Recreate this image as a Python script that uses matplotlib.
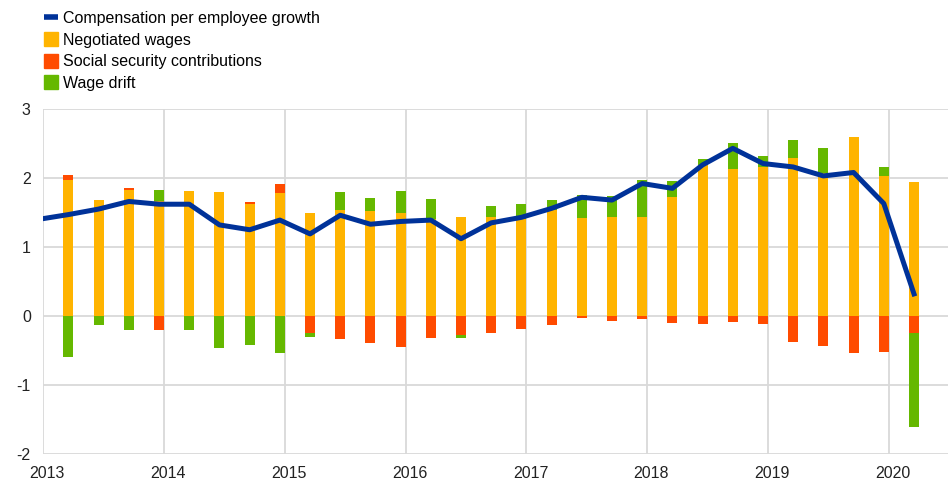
import numpy as np
import matplotlib.pyplot as plt
import matplotlib.transforms as mtransforms
from matplotlib.patches import Patch
from matplotlib.lines import Line2D

plt.rcParams['font.family'] = ['Liberation Sans', 'DejaVu Sans']
plt.rcParams['axes.unicode_minus'] = False

# quarterly data, 2013Q1 .. 2020Q1
quarters = [f'{y}Q{q}' for y in range(2013, 2021) for q in range(1, 5)][:29]
negotiated = [1.97, 1.68, 1.83, 1.66, 1.81, 1.79, 1.63, 1.78,
              1.50, 1.53, 1.52, 1.50, 1.40, 1.43, 1.43, 1.41,
              1.54, 1.42, 1.43, 1.43, 1.72, 2.19, 2.13, 2.16,
              2.29, 2.07, 2.59, 2.03, 1.94]
social_sec = [0.08, 0.00, 0.02, -0.21, 0.00, 0.01, 0.02, 0.14,
              -0.25, -0.34, -0.39, -0.45, -0.32, -0.28, -0.24, -0.19,
              -0.13, -0.03, -0.07, -0.05, -0.10, -0.11, -0.09, -0.12,
              -0.38, -0.43, -0.53, -0.52, -0.24]
wage_drift = [-0.59, -0.13, -0.21, 0.17, -0.21, -0.47, -0.42, -0.53,
              -0.05, 0.27, 0.19, 0.31, 0.30, -0.04, 0.17, 0.21,
              0.14, 0.33, 0.31, 0.54, 0.23, 0.08, 0.37, 0.16,
              0.26, 0.37, 0.01, 0.13, -1.37]
# line starts one quarter earlier (2012Q4)
comp_quarters = ['2012Q4'] + quarters
comp_growth = [1.40, 1.47, 1.55, 1.66, 1.62, 1.62, 1.32, 1.25, 1.39,
               1.19, 1.46, 1.33, 1.37, 1.39, 1.12, 1.35, 1.43, 1.56,
               1.72, 1.68, 1.92, 1.85, 2.19, 2.43, 2.21, 2.16, 2.03,
               2.08, 1.63, 0.32]

BLUE = '#003299'
ORANGE = '#FFB400'
RED = '#FF4B00'
GREEN = '#65B800'
GRID = '#d9d9d9'

bar_w = 0.083


def qpos(label):
    y, q = int(label[:4]), int(label[-1])
    # bars sit just before the quarter end
    return y + q * 0.25 - bar_w / 2


x = np.array([qpos(q) for q in quarters])
xl = np.array([qpos(q) for q in comp_quarters])

fig = plt.figure(figsize=(9.49, 4.82), dpi=100)
ax = fig.add_axes([43.3 / 949, 1 - 454 / 482, (948 - 43.3) / 949, (454 - 109) / 482])

pos_bottom = np.zeros(len(x))
neg_bottom = np.zeros(len(x))
for vals, col in [(negotiated, ORANGE), (social_sec, RED), (wage_drift, GREEN)]:
    v = np.array(vals)
    bottom = np.where(v >= 0, pos_bottom, neg_bottom)
    ax.bar(x, v, width=bar_w, bottom=bottom, color=col, zorder=2)
    pos_bottom += np.where(v >= 0, v, 0)
    neg_bottom += np.where(v < 0, v, 0)

ax.plot(xl, comp_growth, color=BLUE, lw=3.6, zorder=3, solid_joinstyle='round')

ax.set_xlim(2013, 2020.49)
ax.set_ylim(-2, 3)
ax.set_yticks(range(-2, 4))
ax.set_xticks(range(2013, 2021))
ax.grid(True, color=GRID, lw=1.3, zorder=0)
ax.set_axisbelow(True)
for s in ax.spines.values():
    s.set_visible(False)
ax.tick_params(length=0, labelsize=11.5, colors='#222222')
ax.tick_params(axis='y', pad=9)
ax.tick_params(axis='x', pad=9)
offset = mtransforms.ScaledTranslation(4 / 100, 0, fig.dpi_scale_trans)
for lab in ax.get_xticklabels():
    lab.set_transform(lab.get_transform() + offset)

handles = [Line2D([0], [0], color=BLUE, lw=4, solid_capstyle='butt'),
           Patch(color=ORANGE), Patch(color=RED), Patch(color=GREEN)]
labels = ['Compensation per employee growth', 'Negotiated wages',
          'Social security contributions', 'Wage drift']
fig.legend(handles, labels, loc='upper left', bbox_to_anchor=(44 / 949, 1 - 11 / 482),
           frameon=False, fontsize=11.5, handlelength=0.9, handleheight=0.95,
           handletextpad=0.3, labelspacing=0.38, borderpad=0, borderaxespad=0)

fig.savefig('out.png', dpi=100)
